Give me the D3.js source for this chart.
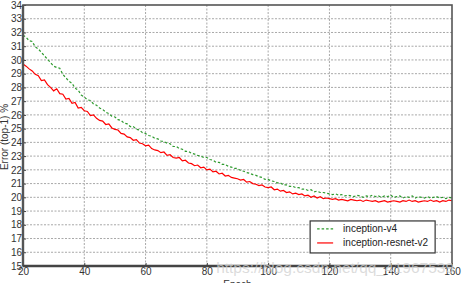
<!DOCTYPE html>
<html>
<head>
<meta charset="utf-8">
<script src="https://cdn.jsdelivr.net/npm/d3@7"></script>
<style>
  html, body { margin: 0; padding: 0; background: #fff; }
  svg { display: block; font-family: "Liberation Sans", Arial, sans-serif; }
</style>
</head>
<body>
<svg id="chart" width="464" height="283"></svg>
<script>
// first epoch of both curves, one value per epoch after that
const epochStart = 20;
const xTicks = [20, 40, 60, 80, 100, 120, 140, 160];
const yTicks = [15, 16, 17, 18, 19, 20, 21, 22, 23, 24, 25, 26, 27, 28, 29, 30, 31, 32, 33, 34];

// inception-v4, epochs 20..160
const inceptionV4 = [
  31.8, 31.65, 31.4, 31.35, 30.95, 30.8, 30.55, 30.3, 30.05, 29.8,
  29.55, 29.45, 29.4, 28.95, 28.7, 28.45, 28.3, 27.95, 27.8, 27.45,
  27.3, 27.1, 27.05, 26.8, 26.7, 26.5, 26.4, 26.2, 26.1, 25.9,
  25.85, 25.65, 25.6, 25.4, 25.35, 25.15, 25.15, 24.95, 24.9, 24.7,
  24.65, 24.5, 24.45, 24.3, 24.25, 24.1, 24.05, 23.95, 23.9, 23.7,
  23.7, 23.55, 23.5, 23.35, 23.35, 23.2, 23.15, 23.05, 23.0, 22.9,
  22.9, 22.75, 22.7, 22.55, 22.55, 22.4, 22.4, 22.25, 22.2, 22.1,
  22.1, 21.95, 21.9, 21.8, 21.75, 21.65, 21.6, 21.5, 21.45, 21.3,
  21.3, 21.2, 21.15, 21.05, 21.05, 20.9, 20.9, 20.8, 20.8, 20.7,
  20.7, 20.6, 20.6, 20.5, 20.55, 20.4, 20.45, 20.35, 20.35, 20.3,
  20.25, 20.2, 20.25, 20.15, 20.2, 20.1, 20.15, 20.1, 20.05, 20.15,
  20.1, 20.0, 20.1, 20.05, 20.15, 20.05, 20.1, 20.0, 20.1, 20.05,
  20.15, 20.0, 20.05, 20.1, 19.95, 20.05, 20.0, 20.1, 19.95, 20.05,
  20.0, 19.95, 20.05, 19.95, 20.0, 20.05, 19.95, 20.0, 19.9, 20.0,
  19.95
];

// inception-resnet-v2, epochs 20..160
const inceptionResnetV2 = [
  29.7, 29.55, 29.35, 29.2, 28.95, 28.85, 28.5, 28.55, 28.2, 28.0,
  27.75, 27.9, 27.55, 27.5, 27.15, 27.2, 26.85, 26.9, 26.5, 26.55,
  26.3, 26.25, 25.95, 26.0, 25.75, 25.6, 25.55, 25.3, 25.35, 25.05,
  24.95, 24.9, 24.65, 24.6, 24.4, 24.35, 24.15, 24.2, 23.95, 23.9,
  23.75, 23.8, 23.55, 23.45, 23.4, 23.25, 23.3, 23.05, 23.1, 22.9,
  22.85, 22.9, 22.65, 22.7, 22.5, 22.45, 22.3, 22.35, 22.15, 22.2,
  22.0, 22.05, 21.85, 21.9, 21.7, 21.75, 21.55, 21.6, 21.45, 21.4,
  21.35, 21.25, 21.3, 21.1, 21.15, 21.0, 20.95, 20.85, 20.9, 20.75,
  20.7, 20.75, 20.55, 20.6, 20.45, 20.5, 20.35, 20.4, 20.25, 20.3,
  20.2, 20.25, 20.1, 20.15, 20.0, 20.1, 19.95, 20.05, 19.9, 19.95,
  19.9, 19.85, 19.9, 19.8, 19.85, 19.8, 19.75, 19.85, 19.8, 19.75,
  19.8, 19.7, 19.8, 19.75, 19.7, 19.75, 19.65, 19.7, 19.75, 19.65,
  19.7, 19.75, 19.7, 19.65, 19.75, 19.7, 19.8, 19.7, 19.75, 19.65,
  19.7, 19.75, 19.7, 19.8, 19.7, 19.75, 19.65, 19.75, 19.7, 19.8,
  19.75
];

const seriesNames = ["inception-v4", "inception-resnet-v2"];
const seriesColors = ["#2e9a2e", "#ff0000"];

const margin = { top: 5, right: 12, bottom: 17, left: 23 };
let svg = d3.select("#chart");
let width = +svg.attr("width");
let height = +svg.attr("height");
let plotWidth = width - margin.left - margin.right;
let plotHeight = height - margin.top - margin.bottom;

let xScale = d3.scaleLinear().domain([20, 160]).range([0, plotWidth]);
let yScale = d3.scaleLinear().domain([15, 34]).range([plotHeight, 0]);

let plot = svg.append("g")
  .attr("transform", "translate(" + margin.left + "," + margin.top + ")");

// dotted grid
plot.append("g")
  .selectAll("line")
  .data(yTicks.slice(1, -1))
  .enter()
  .append("line")
  .attr("x1", 0)
  .attr("x2", plotWidth)
  .attr("y1", d => yScale(d))
  .attr("y2", d => yScale(d))
  .attr("stroke", "#a8a8a8")
  .attr("stroke-width", 1)
  .attr("stroke-dasharray", "2,1.5");

plot.append("g")
  .selectAll("line")
  .data(xTicks.slice(1, -1))
  .enter()
  .append("line")
  .attr("x1", d => xScale(d))
  .attr("x2", d => xScale(d))
  .attr("y1", 0)
  .attr("y2", plotHeight)
  .attr("stroke", "#a8a8a8")
  .attr("stroke-width", 1)
  .attr("stroke-dasharray", "2,1.5");

// curves
let line = d3.line()
  .x((d, i) => xScale(epochStart + i))
  .y(d => yScale(d));

plot.append("path")
  .datum(inceptionV4)
  .attr("d", line)
  .attr("fill", "none")
  .attr("stroke", seriesColors[0])
  .attr("stroke-width", 1.2)
  .attr("stroke-dasharray", "2.5,2");

plot.append("path")
  .datum(inceptionResnetV2)
  .attr("d", line)
  .attr("fill", "none")
  .attr("stroke", seriesColors[1])
  .attr("stroke-width", 1.2);

// axes, ticks pointing inward
let xAxis = plot.append("g")
  .attr("transform", "translate(0," + plotHeight + ")")
  .call(d3.axisBottom(xScale).tickValues(xTicks).tickSize(-3).tickPadding(2).tickSizeOuter(0));

let yAxis = plot.append("g")
  .call(d3.axisLeft(yScale).tickValues(yTicks).tickSize(-3).tickPadding(1).tickSizeOuter(0));

[xAxis, yAxis].forEach(ax => {
  ax.select(".domain").remove();
  ax.selectAll("line").attr("stroke", "#444");
  ax.selectAll("text")
    .attr("fill", "#333")
    .style("font-size", "10px")
    .style("font-family", "'Liberation Sans', Arial, sans-serif");
});

// frame
plot.append("rect")
  .attr("x", 0)
  .attr("y", 0)
  .attr("width", plotWidth)
  .attr("height", plotHeight)
  .attr("fill", "none")
  .attr("stroke", "#555")
  .attr("stroke-width", 1.6);

plot.append("line")
  .attr("x1", 0).attr("x2", 0)
  .attr("y1", 0).attr("y2", plotHeight)
  .attr("stroke", "#555")
  .attr("stroke-width", 2.4);

plot.append("line")
  .attr("x1", 0).attr("x2", plotWidth)
  .attr("y1", plotHeight).attr("y2", plotHeight)
  .attr("stroke", "#444")
  .attr("stroke-width", 2.4);

// axis titles
svg.append("text")
  .attr("transform", "translate(8,137) rotate(-90)")
  .attr("text-anchor", "middle")
  .attr("fill", "#333")
  .style("font-size", "10px")
  .text("Error (top-1) %");

svg.append("text")
  .attr("x", margin.left + plotWidth / 2)
  .attr("y", 288)
  .attr("text-anchor", "middle")
  .attr("fill", "#333")
  .style("font-size", "10px")
  .text("Epoch");

// legend, anchored in data space (lower right corner of the plot)
let legend = plot.append("g")
  .attr("transform", "translate(" + xScale(113.7) + "," + yScale(18.28) + ")");

legend.append("rect")
  .attr("width", 125)
  .attr("height", 32)
  .attr("fill", "#fff")
  .attr("stroke", "#333")
  .attr("stroke-width", 1.2);

seriesNames.forEach((name, i) => {
  let row = legend.append("g").attr("transform", "translate(0," + (8 + i * 14) + ")");
  row.append("line")
    .attr("x1", 7).attr("x2", 23)
    .attr("y1", 0).attr("y2", 0)
    .attr("stroke", seriesColors[i])
    .attr("stroke-width", 1.2)
    .attr("stroke-dasharray", i === 0 ? "2.5,2" : null);
  row.append("text")
    .attr("x", 33)
    .attr("y", 0)
    .attr("dy", "0.35em")
    .attr("fill", "#222")
    .style("font-size", "10px")
    .text(name);
});

// watermark
svg.append("text")
  .attr("x", 454)
  .attr("y", 273)
  .attr("text-anchor", "end")
  .attr("fill", "#d0d0d0")
  .attr("fill-opacity", 0.75)
  .style("font-size", "15.5px")
  .text("https://blog.csdn.net/qq_41967539");
</script>
</body>
</html>
